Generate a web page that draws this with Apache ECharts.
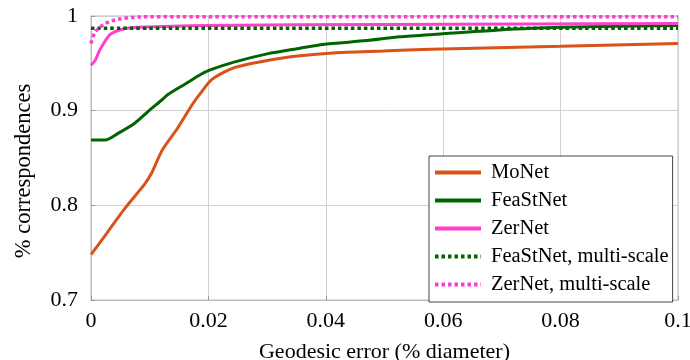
<!DOCTYPE html>
<html>
<head>
<meta charset="utf-8">
<script src="https://cdn.jsdelivr.net/npm/echarts@6/dist/echarts.min.js"></script>
<style>html,body{margin:0;padding:0;background:#fff}#c{width:690px;height:360px}</style>
</head>
<body>
<div id="c"></div>
<script>
const xTicks = ['0', '0.02', '0.04', '0.06', '0.08', '0.1'];
const yTicks = ['0.7', '0.8', '0.9', '1'];
const seriesNames = ['MoNet', 'FeaStNet', 'ZerNet', 'FeaStNet, multi-scale', 'ZerNet, multi-scale'];

const monetX = [0, 0.0024, 0.0058, 0.0092, 0.0104, 0.0121, 0.0148, 0.0172, 0.0186, 0.0206, 0.0242, 0.030, 0.0356, 0.0413, 0.0498, 0.058, 0.08, 0.1];
const monetY = [0.748, 0.768, 0.797, 0.823, 0.835, 0.858, 0.882, 0.906, 0.918, 0.933, 0.945, 0.953, 0.958, 0.961, 0.963, 0.965, 0.968, 0.971];

const feastX = [0, 0.0024, 0.0046, 0.0075, 0.0097, 0.012, 0.0131, 0.016, 0.0186, 0.0203, 0.0242, 0.030, 0.0356, 0.0395, 0.047, 0.0526, 0.0595, 0.069, 0.080, 0.1];
const feastY = [0.869, 0.869, 0.876, 0.887, 0.899, 0.911, 0.917, 0.928, 0.938, 0.943, 0.951, 0.960, 0.966, 0.970, 0.974, 0.978, 0.981, 0.985, 0.988, 0.990];

const zerX = [0, 0.0007, 0.0015, 0.0032, 0.0053, 0.008, 0.02, 0.05, 0.1];
const zerY = [0.948, 0.953, 0.964, 0.980, 0.986, 0.988, 0.990, 0.991, 0.992];

const feastMsX = [0, 0.1];
const feastMsY = [0.987, 0.987];

const zerMsX = [0, 0.0007, 0.0024, 0.0046, 0.008, 0.015, 0.1];
const zerMsY = [0.971, 0.983, 0.992, 0.9965, 0.999, 0.9993, 0.9993];

const colors = ['#d95319', '#006400', '#ff3ecf', '#006400', '#ff3ecf'];
const xs = [monetX, feastX, zerX, feastMsX, zerMsX];
const ys = [monetY, feastY, zerY, feastMsY, zerMsY];
const dashed = [false, false, false, true, true];

const font = 'Liberation Serif';
const chart = echarts.init(document.getElementById('c'), null, {renderer: 'canvas'});

const series = seriesNames.map((name, i) => ({
  name: name,
  type: 'line',
  data: xs[i].map((x, j) => [x, ys[i][j]]),
  showSymbol: false,
  symbol: 'none',
  smooth: 0.25,
  color: colors[i],
  lineStyle: {color: colors[i], width: dashed[i] ? 3.5 : 3, type: dashed[i] ? [3.5, 3] : 'solid'},
  z: 2 + i
}));

chart.setOption({
  animation: false,
  grid: {left: 91, right: 12, top: 16, bottom: 60, show: true, borderColor: '#bdbdbd', borderWidth: 1,
         outerBoundsMode: 'none', containLabel: false},
  xAxis: {
    type: 'value', min: 0, max: 0.1, interval: 0.02,
    name: 'Geodesic error (% diameter)', nameLocation: 'middle', nameGap: 41,
    nameTextStyle: {fontFamily: font, fontSize: 22, color: '#000'},
    axisLine: {show: true, lineStyle: {color: '#bdbdbd'}},
    axisTick: {show: true, inside: true, length: 4, lineStyle: {color: '#999'}},
    splitLine: {show: true, lineStyle: {color: '#d0d0d0', width: 1}},
    axisLabel: {fontFamily: font, fontSize: 22, color: '#000', margin: 10,
      formatter: (v) => xTicks[Math.round(v / 0.02)]}
  },
  yAxis: {
    type: 'value', min: 0.7, max: 1, interval: 0.1,
    name: '% correspondences', nameLocation: 'middle', nameGap: 55, nameRotate: 90,
    nameTextStyle: {fontFamily: font, fontSize: 22.5, color: '#000', padding: [0, 26, 0, 0]},
    axisLine: {show: true, lineStyle: {color: '#bdbdbd'}},
    axisTick: {show: true, inside: true, length: 4, lineStyle: {color: '#999'}},
    splitLine: {show: true, lineStyle: {color: '#d0d0d0', width: 1}},
    axisLabel: {fontFamily: font, fontSize: 22, color: '#000', margin: 13,
      formatter: (v) => yTicks[Math.round((v - 0.7) / 0.1)]}
  },
  legend: {
    show: true, orient: 'vertical', left: 429, top: 156,
    data: seriesNames,
    itemWidth: 46, itemHeight: 14, itemGap: 7,
    padding: [6, 4, 7, 4],
    borderColor: '#444', borderWidth: 1, backgroundColor: '#fff',
    itemStyle: {opacity: 0},
    lineStyle: {width: 4},
    textStyle: {fontFamily: font, fontSize: 20.5, color: '#000', lineHeight: 20, padding: [0, 0, 0, 5]}
  },
  series: series
});
</script>
</body>
</html>
